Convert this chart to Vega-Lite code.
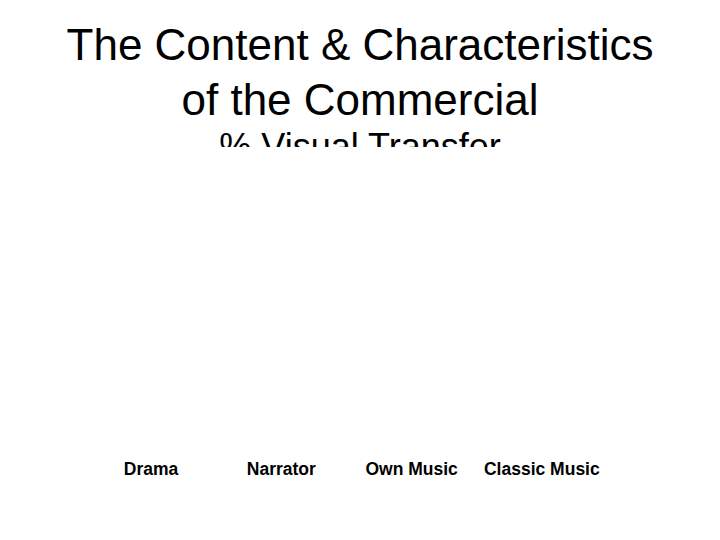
{
  "$schema": "https://vega.github.io/schema/vega-lite/v6.json",
  "autosize": {"type": "none"},
  "width": 720,
  "height": 19,
  "padding": {"top": 128, "left": 0, "right": 0, "bottom": 393},
  "background": "white",
  "config": {"view": {"stroke": null}},
  "title": {
    "text": ["The Content & Characteristics", "of the Commercial"],
    "font": "Liberation Sans",
    "fontSize": 44,
    "fontWeight": "normal",
    "color": "black",
    "anchor": "middle",
    "frame": "group",
    "lineHeight": 55,
    "offset": 4
  },
  "datasets": {
    "bars": [
      {"category": "Drama", "value": 0},
      {"category": "Narrator", "value": 0},
      {"category": "Own Music", "value": 0},
      {"category": "Classic Music", "value": 0}
    ],
    "sub": [{"text": "% Visual Transfer"}]
  },
  "layer": [
    {
      "data": {"name": "bars"},
      "mark": {"type": "bar", "color": "#4472c4"},
      "encoding": {
        "x": {
          "field": "category",
          "type": "nominal",
          "sort": null,
          "scale": {"paddingInner": 0, "paddingOuter": 0.764, "align": 0.432},
          "axis": {
            "title": null,
            "orient": "bottom",
            "offset": 313,
            "ticks": false,
            "domain": false,
            "grid": false,
            "labelPadding": 0,
            "labelAngle": 0,
            "labelBaseline": "top",
            "labelFont": "Liberation Sans",
            "labelFontSize": 17.5,
            "labelFontWeight": "bold",
            "labelColor": "black"
          }
        },
        "y": {
          "field": "value",
          "type": "quantitative",
          "axis": null,
          "scale": {"domain": [0, 100]}
        }
      }
    },
    {
      "data": {"name": "sub"},
      "mark": {
        "type": "text",
        "clip": true,
        "font": "Liberation Sans",
        "fontSize": 36,
        "baseline": "alphabetic",
        "align": "center",
        "color": "black"
      },
      "encoding": {
        "text": {"field": "text"},
        "x": {"value": {"expr": "width/2"}},
        "y": {"value": {"expr": "height+12"}}
      }
    }
  ]
}
